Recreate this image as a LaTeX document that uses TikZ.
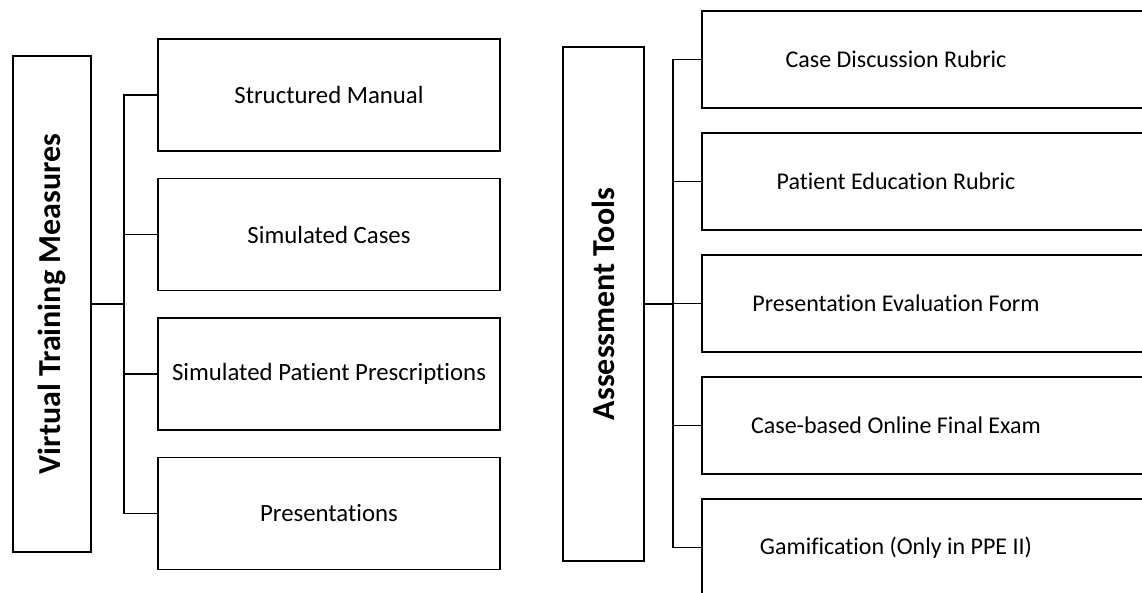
\documentclass[tikz,border=0pt]{standalone}
\usepackage{fontspec}
\setmainfont{Carlito}[Ligatures = NoCommon]
\usepackage{graphicx}
\usetikzlibrary{positioning}

\begin{document}
\begin{tikzpicture}[x = 1pt, y = -1pt, line width = 1.5pt, node distance = 26pt]
    \tikzstyle{title} = [draw, shape = rectangle, inner sep = 0pt, font = \fontsize{32}{36}\selectfont\bfseries]
    \tikzstyle{lbox} = [draw, shape = rectangle, minimum width = 342pt, minimum height = 112pt, font = \fontsize{24.8}{29}\selectfont]
    \tikzstyle{rbox} = [draw, shape = rectangle, minimum width = 470pt, minimum height = 97pt]
    \tikzstyle{rtext} = [inner sep = 0pt, font = \fontsize{24}{28}\selectfont]

    \clip (0,0) rectangle (1142,592);

    % left part
    \node[title, minimum width = 78pt, minimum height = 496pt] (vtm) at (52,304) {\rotatebox{90}{Virtual Training Measures}};
    \node[lbox] (manual) at (329,95) {Structured Manual};
    \node[lbox] (cases) [below = of manual] {Simulated Cases};
    \node[lbox] (prescr) [below = of cases] {Simulated Patient Prescriptions};
    \node[lbox] (present) [below = of prescr] {Presentations};

    \coordinate (ltrunk) at (124,304);
    \draw (vtm.east) -- (ltrunk);
    \foreach \n in {manual, cases, prescr, present}
        \draw (ltrunk) |- (\n.west);

    % right part
    \node[title, minimum width = 81pt, minimum height = 514pt] (tools) at (603.5,304) {\rotatebox{90}{Assessment Tools}};
    \node[rbox, anchor = west] (rubric) at (701,59.5) {};
    \node[rbox] (educ) [below = 23.5pt of rubric] {};
    \node[rbox] (form) [below = 23.5pt of educ] {};
    \node[rbox] (exam) [below = 23.5pt of form] {};
    \node[rbox] (game) [below = 23.5pt of exam] {};

    \node[rtext] (rubrictxt) at ([xshift = 195pt] rubric.west) {Case Discussion Rubric};
    \node[rtext] (eductxt) at ([xshift = 195pt] educ.west) {Patient Education Rubric};
    \node[rtext] (formtxt) at ([xshift = 195pt] form.west) {Presentation Evaluation Form};
    \node[rtext] (examtxt) at ([xshift = 195pt] exam.west) {Case-based Online Final Exam};
    \node[rtext] (gametxt) at ([xshift = 195pt] game.west) {Gamification (Only in PPE II)};

    \coordinate (rtrunk) at (673,304);
    \draw (tools.east) -- (rtrunk);
    \foreach \n in {rubric, educ, form, exam, game}
        \draw (rtrunk) |- (\n.west);
\end{tikzpicture}
\end{document}
